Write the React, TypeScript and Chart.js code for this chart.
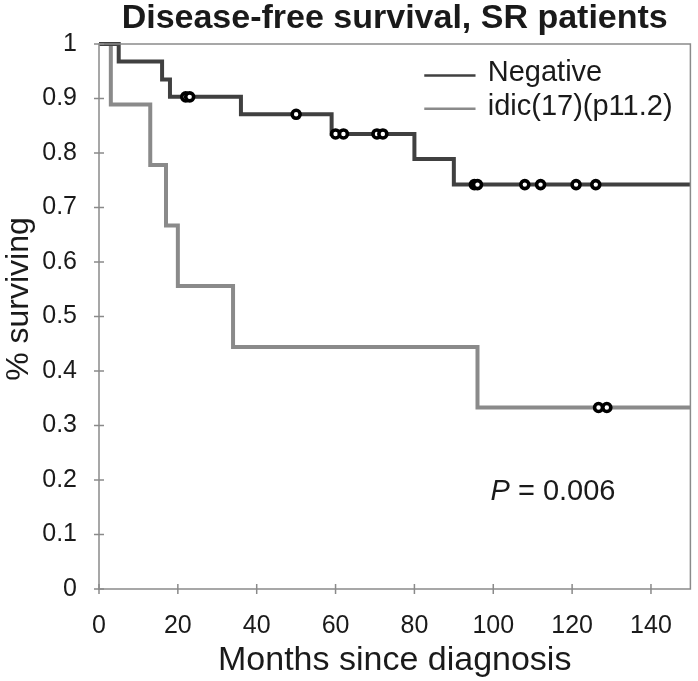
import React, { useEffect, useRef } from "react";
import { Chart, registerables } from "chart.js";

Chart.register(...registerables);

const titleText = "Disease-free survival, SR patients";
const xTitle = "Months since diagnosis";
const yTitle = "% surviving";
const seriesNames = ["Negative", "idic(17)(p11.2)"];
const seriesColors = ["#404040", "#8a8a8a"];

const xTicks = [0, 20, 40, 60, 80, 100, 120, 140];
const yTicks = [0, 0.1, 0.2, 0.3, 0.4, 0.5, 0.6, 0.7, 0.8, 0.9, 1];

// Negative group: step (event) times and survival after each step
const negTimes = [0, 5, 16, 18, 36, 59, 80, 90, 150];
const negSurv = [1, 0.968, 0.935, 0.903, 0.871, 0.835, 0.789, 0.742, 0.742];
const negCensorTimes = [22, 23, 50, 60, 62, 70.5, 72, 95.2, 96, 108, 112, 121, 126];
const negCensorSurv = [0.903, 0.903, 0.871, 0.835, 0.835, 0.835, 0.835, 0.742, 0.742, 0.742, 0.742, 0.742, 0.742];

// idic(17)(p11.2) group
const idicTimes = [0, 3, 13, 17, 20, 34, 96, 150];
const idicSurv = [1, 0.889, 0.778, 0.667, 0.556, 0.444, 0.333, 0.333];
const idicCensorTimes = [126.7, 128.8];
const idicCensorSurv = [0.333, 0.333];

const pLabel = "P";
const pValueText = " = 0.006";

const FONT = "'Liberation Sans', Arial, sans-serif";
const AXIS_COLOR = "#8a8a8a";
const TEXT_COLOR = "#1a1a1a";

const zip = (xs: number[], ys: number[]) => xs.map((x, i) => ({ x, y: ys[i] }));

export default function App() {
  const ref = useRef<HTMLCanvasElement | null>(null);

  useEffect(() => {
    document.body.style.margin = "0";
    const canvas = ref.current;
    if (!canvas) return;

    const decorPlugin = {
      id: "decor",
      afterDraw(chart: any) {
        const { ctx, chartArea } = chart;
        const xs = chart.scales.x;
        const ys = chart.scales.y;
        ctx.save();
        // frame
        ctx.strokeStyle = AXIS_COLOR;
        ctx.lineWidth = 1.5;
        ctx.strokeRect(chartArea.left, chartArea.top, chartArea.right - chartArea.left, chartArea.bottom - chartArea.top);
        // crossing ticks
        ctx.beginPath();
        yTicks.forEach((v) => {
          const py = ys.getPixelForValue(v);
          ctx.moveTo(chartArea.left - 5, py);
          ctx.lineTo(chartArea.left + 5, py);
        });
        xTicks.forEach((v) => {
          const px = xs.getPixelForValue(v);
          ctx.moveTo(px, chartArea.bottom - 5);
          ctx.lineTo(px, chartArea.bottom + 5);
        });
        ctx.stroke();

        // title, centred over the plot area
        ctx.fillStyle = TEXT_COLOR;
        ctx.font = `bold 34px ${FONT}`;
        ctx.textAlign = "center";
        ctx.textBaseline = "middle";
        ctx.fillText(titleText, (chartArea.left + chartArea.right) / 2, 19);

        // y axis title
        ctx.save();
        ctx.translate(19, 299);
        ctx.rotate(-Math.PI / 2);
        ctx.font = `32px ${FONT}`;
        ctx.fillText(yTitle, 0, 0);
        ctx.restore();
        ctx.textAlign = "left";

        // legend
        ctx.font = `29px ${FONT}`;
        const lx0 = xs.getPixelForValue(82.5);
        const lx1 = xs.getPixelForValue(95.5);
        const tx = xs.getPixelForValue(98.6);
        const ly = [ys.getPixelForValue(0.946), ys.getPixelForValue(0.885)];
        seriesNames.forEach((name, i) => {
          ctx.strokeStyle = seriesColors[i];
          ctx.lineWidth = 2.5;
          ctx.beginPath();
          ctx.moveTo(lx0, ly[i] + 2);
          ctx.lineTo(lx1, ly[i] + 2);
          ctx.stroke();
          ctx.fillText(name, tx, ly[i]);
        });

        // P value
        const px = xs.getPixelForValue(99.3);
        const py = ys.getPixelForValue(0.178);
        ctx.font = `italic 29px ${FONT}`;
        ctx.fillText(pLabel, px, py);
        const w = ctx.measureText(pLabel).width;
        ctx.font = `29px ${FONT}`;
        ctx.fillText(pValueText, px + w, py);
        ctx.restore();
      },
    };

    const censorStyle = {
      type: "scatter" as const,
      showLine: false,
      pointRadius: 4,
      pointHoverRadius: 4,
      pointBorderWidth: 3.6,
      pointBorderColor: "#000000",
      pointBackgroundColor: "#ffffff",
      order: 0,
      clip: 8,
    };

    const chart = new Chart(canvas, {
      type: "line",
      data: {
        datasets: [
          { ...censorStyle, label: "negCensor", data: zip(negCensorTimes, negCensorSurv) },
          { ...censorStyle, label: "idicCensor", data: zip(idicCensorTimes, idicCensorSurv) },
          {
            label: seriesNames[0],
            data: zip(negTimes, negSurv),
            stepped: "before",
            borderColor: seriesColors[0],
            borderWidth: 4,
            pointRadius: 0,
            fill: false,
            order: 1,
            clip: 8,
          },
          {
            label: seriesNames[1],
            data: zip(idicTimes, idicSurv),
            stepped: "before",
            borderColor: seriesColors[1],
            borderWidth: 4,
            pointRadius: 0,
            fill: false,
            order: 2,
            clip: 8,
          },
        ] as any,
      },
      options: {
        animation: false,
        responsive: false,
        layout: { padding: { left: 0, right: 4, top: 44, bottom: 0 } },
        plugins: {
          legend: { display: false },
          tooltip: { enabled: false },
          title: { display: false },
        },
        scales: {
          x: {
            type: "linear",
            min: 0,
            max: 150,
            afterBuildTicks: (s: any) => {
              s.ticks = xTicks.map((v) => ({ value: v }));
            },
            afterFit: (s: any) => {
              s.height = 92;
            },
            grid: { display: false },
            border: { display: false },
            ticks: {
              color: TEXT_COLOR,
              font: { family: FONT, size: 25 },
              padding: 14,
              maxRotation: 0,
              autoSkip: false,
            },
            title: {
              display: true,
              text: xTitle,
              color: TEXT_COLOR,
              font: { family: FONT, size: 34 },
              padding: { top: 0, bottom: 0 },
            },
          },
          y: {
            type: "linear",
            min: 0,
            max: 1,
            afterBuildTicks: (s: any) => {
              s.ticks = yTicks.map((v) => ({ value: v }));
            },
            afterFit: (s: any) => {
              s.width = 99;
            },
            grid: { display: false },
            border: { display: false },
            ticks: {
              color: TEXT_COLOR,
              font: { family: FONT, size: 25 },
              padding: 14,
              autoSkip: false,
              callback: (v: any) => String(Math.round(Number(v) * 10) / 10),
            },
            title: { display: false },
          },
        },
      },
      plugins: [decorPlugin],
    });

    return () => chart.destroy();
  }, []);

  return (
    <div style={{ width: 698, height: 681 }}>
      <canvas ref={ref} width={698} height={681} style={{ display: "block", width: 698, height: 681 }} />
    </div>
  );
}
